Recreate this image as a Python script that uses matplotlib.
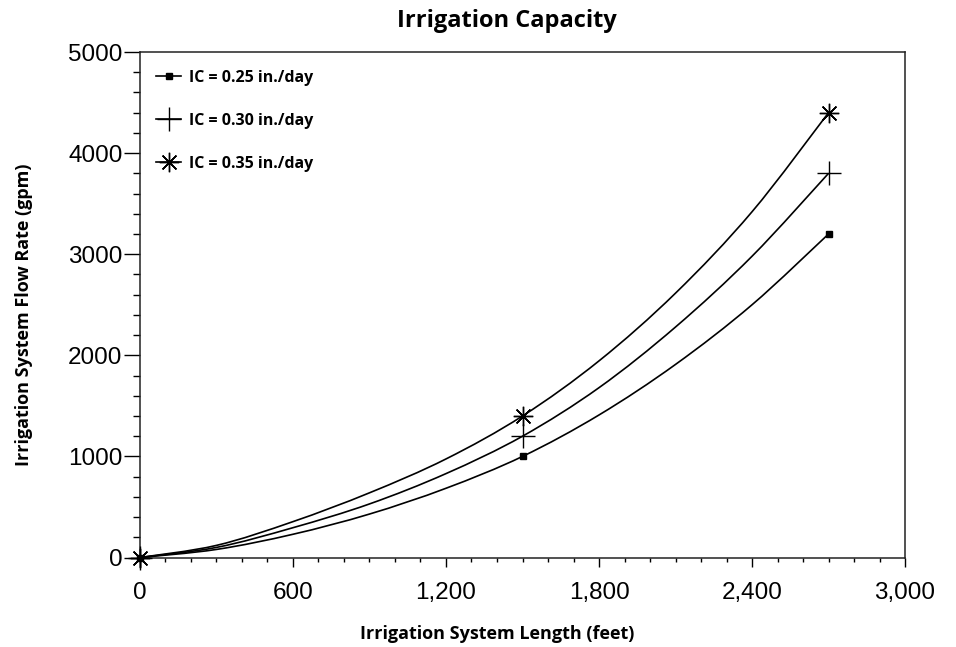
import matplotlib
matplotlib.use("Agg")
import matplotlib.pyplot as plt
from matplotlib.lines import Line2D
from matplotlib.path import Path
from matplotlib.patches import PathPatch
from matplotlib.ticker import MultipleLocator, FuncFormatter

# values (feet, gpm)
length_ft = [0, 300, 600, 900, 1200, 1500, 1800, 2100, 2400, 2700]
flow_025 = [0, 80, 230, 430, 685, 1000, 1410, 1910, 2500, 3200]
flow_030 = [0, 100, 295, 530, 830, 1200, 1680, 2280, 2980, 3800]
flow_035 = [0, 120, 355, 640, 975, 1400, 1945, 2615, 3420, 4400]
series_labels = ["IC = 0.25 in./day", "IC = 0.30 in./day", "IC = 0.35 in./day"]
marker_idx = [0, 5, 9]  # markers at 0, 1500 and 2700 ft

tick_font = "Liberation Sans"
text_font = "Open Sans"


def smooth_path(xs, ys):
    # smoothed line through the points (Catmull-Rom as cubic Bezier pieces)
    pts = list(zip(xs, ys))
    n = len(pts)
    verts = [pts[0]]
    codes = [Path.MOVETO]
    for i in range(n - 1):
        p0 = pts[max(i - 1, 0)]
        p1 = pts[i]
        p2 = pts[i + 1]
        p3 = pts[min(i + 2, n - 1)]
        c1 = (p1[0] + (p2[0] - p0[0]) / 6.0, p1[1] + (p2[1] - p0[1]) / 6.0)
        c2 = (p2[0] - (p3[0] - p1[0]) / 6.0, p2[1] - (p3[1] - p1[1]) / 6.0)
        verts += [c1, c2, p2]
        codes += [Path.CURVE4] * 3
    return Path(verts, codes)


fig = plt.figure(figsize=(9.56, 6.47), dpi=100)
ax = fig.add_axes([0.1464, 0.1383, 0.8003, 0.7813])

styles = [
    dict(marker="s", ms=4.5),
    dict(marker="+", ms=17, mew=1.0),
    dict(marker=(8, 2, 0), ms=14, mew=1.0),
]
handles = []
for flow, lab, st in zip([flow_025, flow_030, flow_035], series_labels, styles):
    ax.add_patch(PathPatch(smooth_path(length_ft, flow), fill=False,
                           edgecolor="black", lw=1.2, zorder=3))
    ax.plot([length_ft[i] for i in marker_idx], [flow[i] for i in marker_idx],
            ls="none", color="black", clip_on=False, zorder=4, **st)
    handles.append(Line2D([], [], color="black", lw=1.2, label=lab, **st))

ax.set_xlim(0, 3000)
ax.set_ylim(0, 5000)
ax.xaxis.set_major_locator(MultipleLocator(600))
ax.xaxis.set_minor_locator(MultipleLocator(100))
ax.yaxis.set_major_locator(MultipleLocator(1000))
ax.yaxis.set_minor_locator(MultipleLocator(200))
ax.xaxis.set_major_formatter(FuncFormatter(lambda v, p: f"{int(v):,}"))

ax.tick_params(axis="x", which="major", length=6.5, width=1.0, pad=11)
ax.tick_params(axis="x", which="minor", length=3, width=1.0)
ax.tick_params(axis="y", which="major", length=11.5, width=1.0, pad=1)
ax.tick_params(axis="y", which="minor", length=5, width=1.0)
for lbl in ax.get_xticklabels() + ax.get_yticklabels():
    lbl.set_fontfamily(tick_font)
    lbl.set_fontsize(17.5)
for sp in ax.spines.values():
    sp.set_linewidth(1.1)
    sp.set_color("#222222")

ax.legend(handles=handles, loc="upper left", bbox_to_anchor=(0.0, 0.997), frameon=False,
          handlelength=1.6, handletextpad=0.5, labelspacing=1.7,
          borderaxespad=0.6, prop=dict(family=text_font, weight="bold", size=11.5))

fig.text(0.530, 0.967, "Irrigation Capacity", ha="center", va="center",
         family=text_font, weight="bold", fontsize=17)
fig.text(0.520, 0.020, "Irrigation System Length (feet)", ha="center", va="center",
         family=text_font, weight="bold", fontsize=13)
fig.text(0.025, 0.513, "Irrigation System Flow Rate (gpm)", ha="center", va="center",
         rotation=90, family=text_font, weight="bold", fontsize=13)

fig.savefig("out.png", dpi=100)
